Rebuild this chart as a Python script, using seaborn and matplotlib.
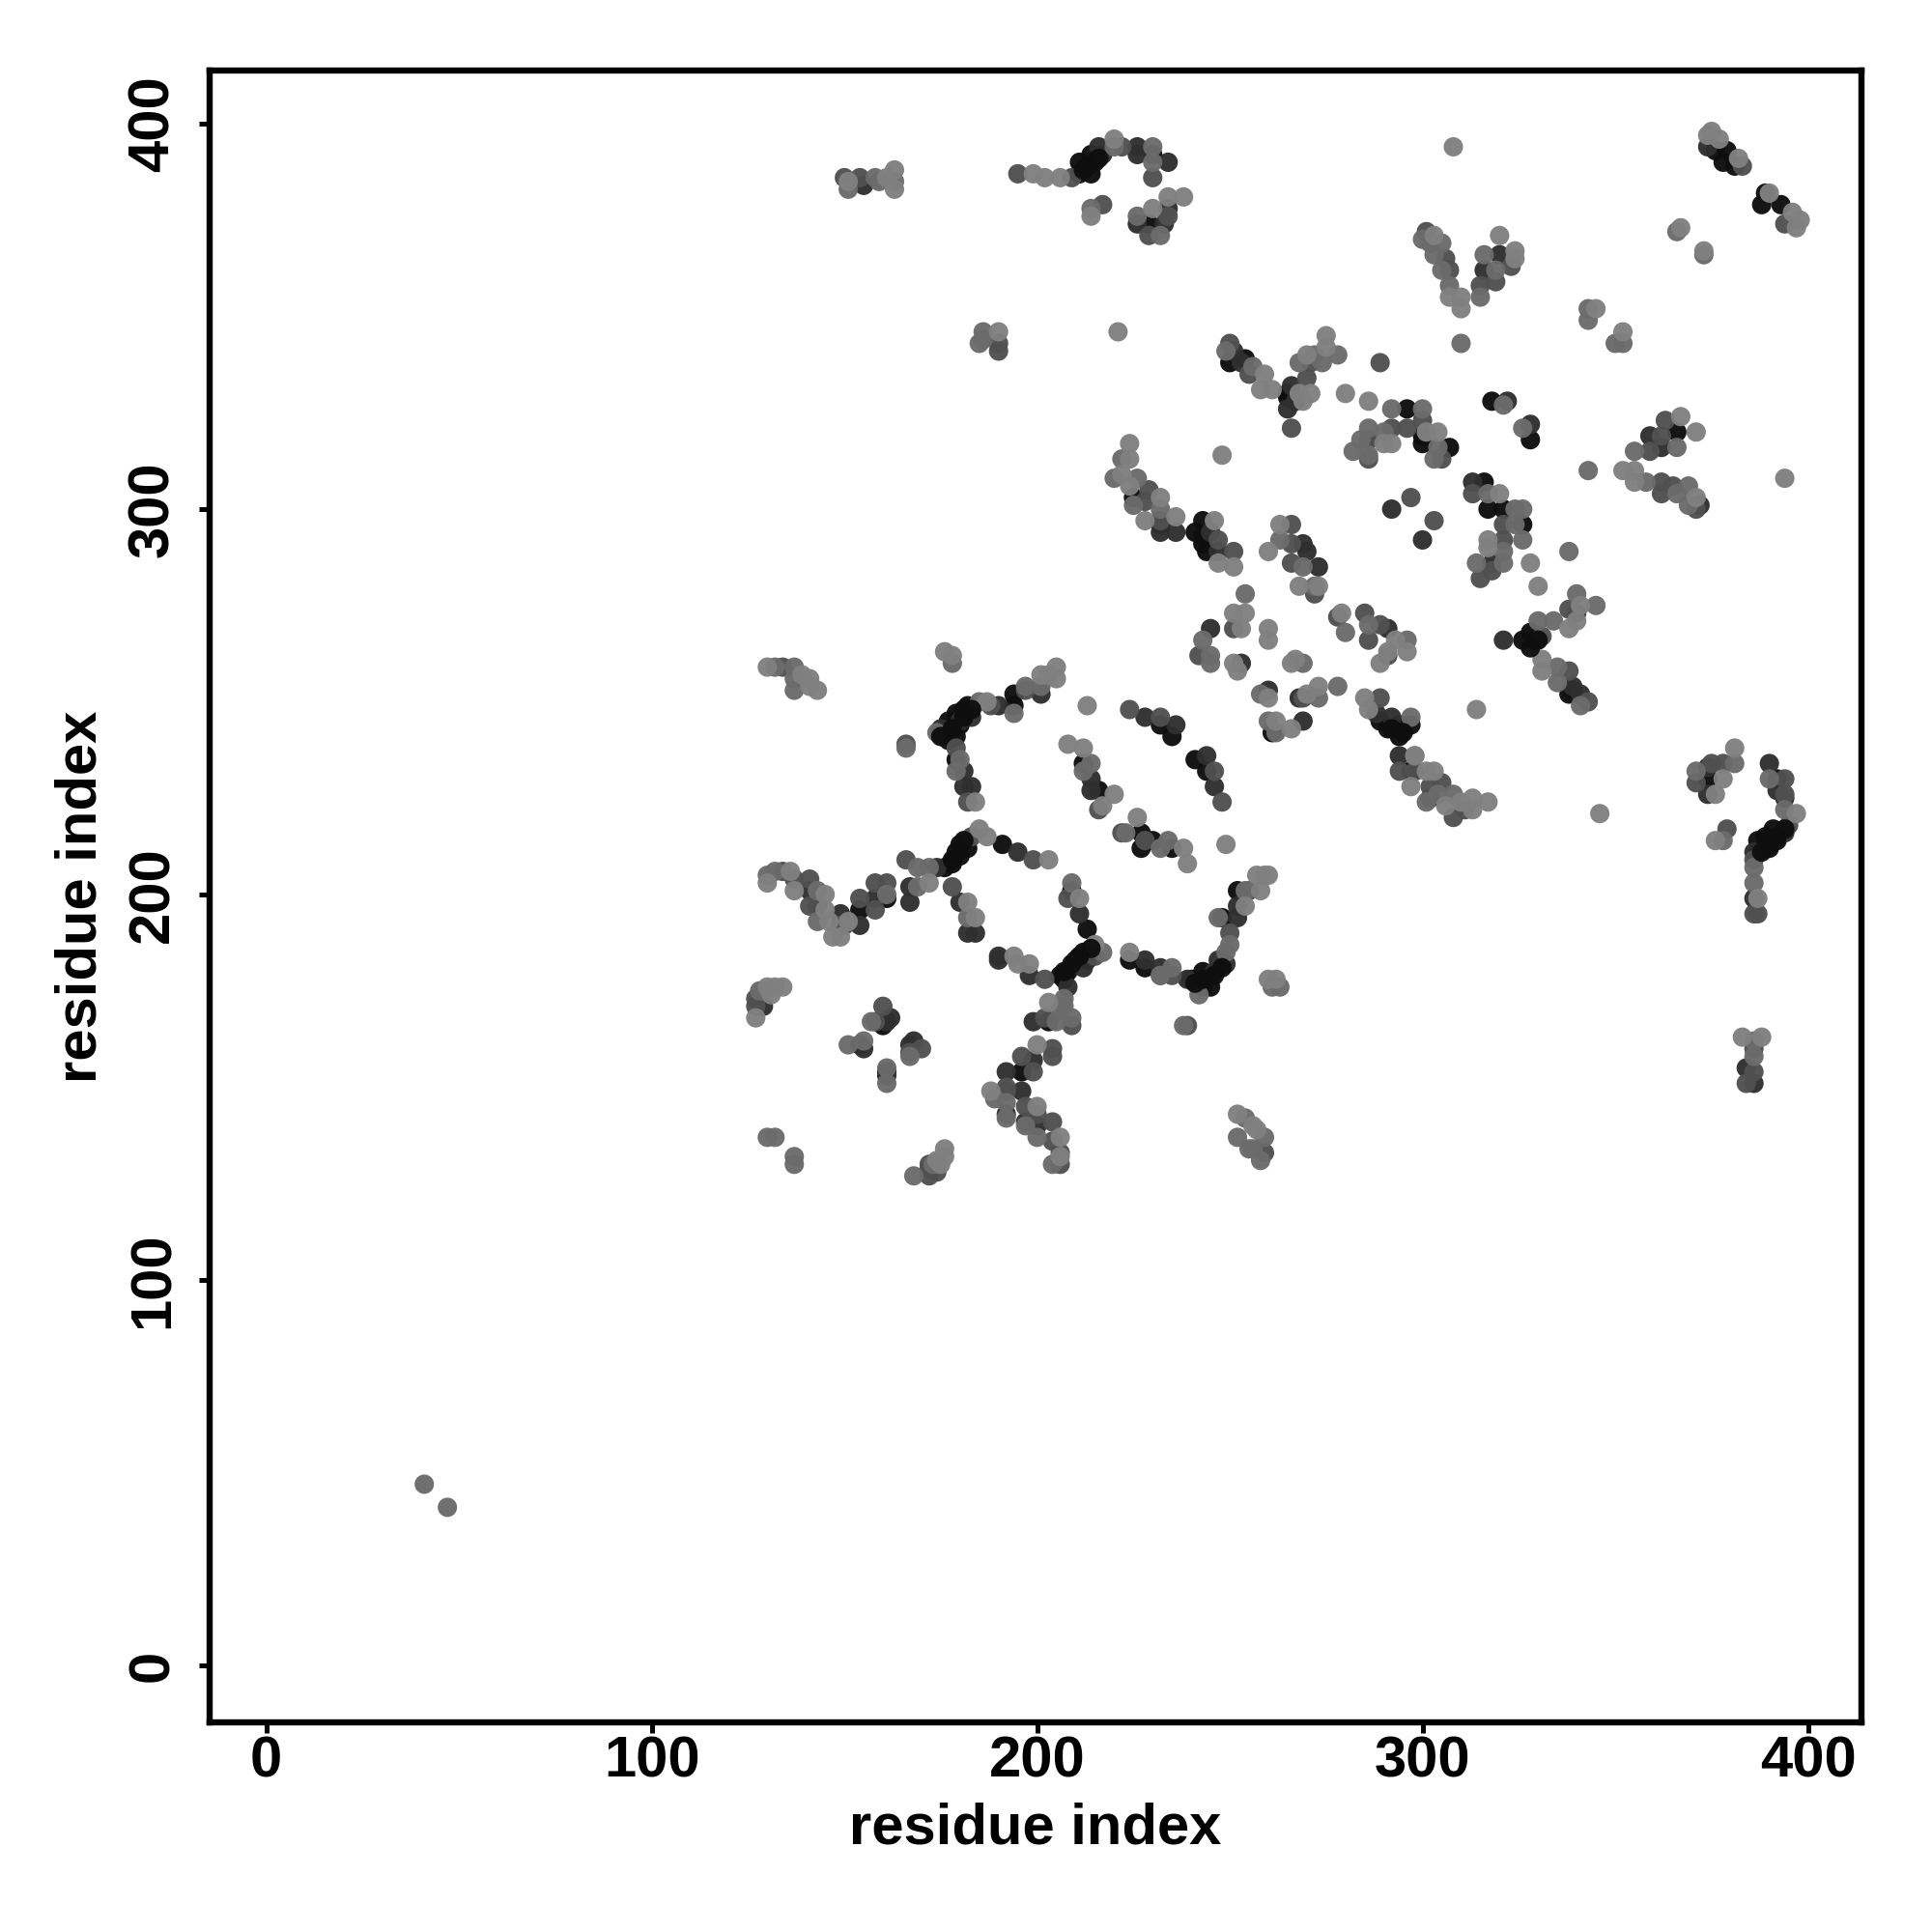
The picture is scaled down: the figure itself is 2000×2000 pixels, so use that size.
import pandas as pd
import seaborn as sns
import matplotlib.pyplot as plt

# contact pairs (residue i, residue j), grouped by how dark the point is
black = [(176,242),(177,245),(177,240),(179,241),(180,244),(179,247),(181,248),(182,249),(194,252),(194,249),(179,235),
    (212,234),(216,227),(232,244),(235,241),(241,235),(244,232),(227,216),(227,212),(230,214),(235,212),
    (154,196),(161,199),(176,207),(178,208),(179,211),(180,210),(180,213),(182,212),(191,213),(209,201),(213,191),
    (212,185),(210,183),(213,183),(208,180),(207,178),(206,179),(203,167),(224,183),(228,181),(240,178),(243,176),
    (245,176),(243,180),(248,194),(252,201),(160,166),(154,161),(161,154),(196,154),(225,303),(232,296),
    (241,294),(243,297),(243,291),(244,289),(243,293),(250,338),(254,339),(265,330),(265,329),(300,319),(300,317),
    (307,316),(318,328),(328,318),(366,320),(229,374),(376,393),(379,393),(378,390),(381,389),(389,382),(388,379),
    (393,379),(211,387),(211,390),(214,387),(214,392),(215,390),(230,392),(261,242),(289,245),(294,244),(294,241),
    (297,244),(291,243),(297,232),(302,225),(316,307),(317,300),(321,300),(326,296),(326,266),(328,268),(329,266),
    (338,252),(339,253),(374,230),(392,230),(391,217),(392,214),(389,215),(390,212),(387,214),(387,211),(296,326)]
dark = [(175,243),(183,246),(180,245),(190,249),(201,252),(181,232),(181,228),(183,228),(228,246),(236,244),(244,236),
    (246,228),(214,230),(214,227),(141,201),(143,197),(149,195),(154,192),(158,199),(167,198),(167,202),(174,207),
    (195,211),(180,198),(182,190),(184,190),(211,195),(212,181),(190,184),(190,183),(198,179),(208,176),(199,167),
    (228,183),(232,181),(239,178),(246,180),(247,183),(249,182),(252,194),(252,197),(129,171),(161,167),(162,168),
    (155,160),(168,162),(167,161),(161,153),(199,157),(192,154),(196,149),(192,143),(197,141),(200,140),
    (232,294),(236,294),(245,294),(247,289),(251,341),(253,338),(265,326),(267,328),(266,332),(286,318),(322,328),
    (328,322),(359,319),(362,316),(372,301),(320,366),(316,362),(155,384),(216,394),(217,392),(226,394),(226,392),
    (234,390),(226,374),(233,374),(234,378),(269,291),(270,289),(273,285),(245,269),(253,260),(260,253),(268,251),
    (269,245),(291,269),(288,247),(292,246),(294,236),(313,307),(318,286),(292,300),(300,292),(321,266),(340,273),
    (339,254),(341,252),(374,233),(374,226),(390,234),(392,227),(394,225),(394,216),(386,211),(386,199),(384,155),
    (386,151),(374,394)]
mid = [(134,259),(166,239),(179,238),(182,224),(188,249),(197,253),(224,248),(232,246),(246,232),(248,224),(216,222),
    (222,216),(228,214),(134,206),(137,204),(141,204),(141,197),(149,192),(150,192),(154,199),(158,196),(158,203),
    (161,203),(166,209),(183,215),(199,209),(178,202),(208,199),(215,184),(202,178),(209,166),(202,168),(232,179),
    (235,179),(250,190),(255,201),(239,166),(127,171),(127,173),(160,171),(158,167),(167,159),(170,160),
    (204,160),(204,158),(196,158),(199,154),(192,150),(192,149),(197,145),(200,143),(204,141),(204,136),(206,133),
    (206,130),(172,127),(172,129),(174,128),(172,130),(259,133),(229,305),(228,302),(222,394),(232,297),
    (247,292),(251,289),(250,343),(255,335),(271,338),(270,334),(266,321),(289,338),(300,323),(296,321),(292,321),
    (286,318),(286,313),(305,313),(363,323),(362,319),(359,315),(362,307),(362,304),(365,306),(371,300),(301,372),
    (306,365),(307,362),(323,363),(315,358),(319,359),(383,389),(394,374),(190,343),(190,341),(150,386),(154,386),
    (195,387),(209,386),(217,379),(229,371),(234,376),(230,386),(266,296),(266,291),(266,286),(272,278),(251,269),
    (242,262),(269,251),(278,272),(285,273),(286,266),(289,270),(291,262),(289,251),(294,232),(298,232),(302,228),
    (305,229),(308,220),(311,222),(313,304),(321,296),(321,292),(318,284),(315,282),(297,303),(303,297),(331,267),
    (338,274),(338,258),(343,250),(378,234),(375,234),(371,229),(379,217),(394,230),(394,226),(395,218),(386,209),
    (386,195),(387,195),(386,154),(384,151),(386,160)]
gray = [(132,259),(137,259),(137,256),(137,253),(178,260),(166,238),(174,242),(185,250),(194,247),(197,254),(201,254),
    (180,235),(179,232),(214,234),(212,232),(223,216),(232,212),(234,214),(130,205),(132,206),(143,201),(143,193),
    (161,200),(169,202),(169,207),(172,207),(182,194),(209,203),(217,185),(207,173),(207,171),(206,170),(209,168),
    (205,167),(232,179),(235,181),(242,174),(249,185),(250,187),(247,194),(254,201),(238,166),(261,176),(263,176),
    (129,175),(128,175),(157,167),(151,161),(155,162),(167,158),(161,155),(161,151),(130,137),(132,137),(137,130),
    (137,132),(168,127),(173,130),(189,147),(192,146),(192,142),(197,140),(200,137),(204,130),(254,142),(252,137),
    (255,134),(259,137),(258,131),(256,134),(222,313),(220,308),(226,308),(225,301),(232,300),(230,394),(230,390),
    (249,341),(256,337),(278,340),(272,340),(268,338),(274,338),(292,326),(300,326),(290,320),(286,321),(284,318),
    (282,315),(286,314),(304,316),(303,313),(321,327),(326,321),(366,316),(355,315),(343,310),(358,307),(366,304),
    (369,306),(369,301),(300,370),(302,369),(305,369),(303,366),(305,362),(307,358),(310,343),(316,366),(319,362),
    (315,355),(366,372),(373,366),(343,352),(343,349),(350,343),(352,343),(186,346),(185,343),(186,344),(151,383),
    (158,386),(163,385),(159,385),(220,394),(214,378),(226,376),(232,371),(263,292),(269,285),(272,280),(254,278),
    (243,266),(245,262),(245,260),(269,260),(258,252),(273,251),(278,254),(260,245),(262,242),(280,268),(286,270),
    (296,266),(297,246),(298,236),(301,224),(304,226),(308,226),(317,304),(324,300),(326,300),(324,296),(326,292),
    (321,289),(321,286),(314,286),(338,289),(330,271),(334,271),(340,278),(345,275),(335,259),(335,255),(341,249),
    (381,234),(371,232),(378,214),(390,230),(394,222),(386,207),(386,203),(386,162),(386,158),(47,41),(41,47)]
light = [(130,259),(139,257),(141,256),(143,253),(141,254),(176,263),(178,262),(187,250),(201,257),(203,257),(205,259),
    (205,256),(184,224),(213,249),(208,239),(212,238),(220,226),(217,223),(226,220),(238,212),(239,208),(249,213),
    (130,203),(136,206),(137,201),(145,200),(145,196),(146,193),(151,193),(147,189),(149,189),(172,203),(185,217),
    (187,215),(203,209),(182,198),(184,194),(211,199),(215,187),(194,184),(195,182),(198,182),(203,172),(224,185),
    (254,197),(258,201),(257,205),(260,205),(259,205),(260,178),(262,178),(127,168),(130,176),(132,176),(134,176),
    (131,174),(175,130),(176,134),(176,132),(174,131),(200,161),(188,149),(200,145),(206,137),(206,132),(252,143),
    (256,140),(257,139),(248,314),(224,317),(224,313),(222,309),(224,306),(232,303),(236,298),(228,297),(246,297),
    (247,286),(251,285),(259,335),(258,331),(261,331),(275,345),(275,342),(270,340),(271,330),(268,330),(269,328),
    (280,330),(286,328),(290,317),(292,317),(301,320),(304,320),(367,324),(371,320),(352,310),(355,310),(355,307),
    (371,303),(394,308),(303,371),(307,355),(310,355),(310,352),(320,371),(324,367),(324,365),(374,397),(375,398),
    (377,396),(382,391),(390,382),(396,377),(397,373),(398,375),(367,373),(373,367),(345,352),(352,346),(190,346),
    (221,346),(151,385),(161,386),(163,388),(163,383),(199,387),(202,386),(206,386),(220,396),(214,376),(230,378),
    (234,381),(238,381),(308,394),(260,289),(263,296),(268,280),(273,280),(251,273),(254,273),(253,269),(251,260),
    (252,258),(260,269),(260,266),(267,261),(266,260),(260,251),(270,252),(273,254),(262,245),(266,243),(279,273),
    (293,266),(296,263),(291,263),(289,260),(285,251),(286,248),(303,232),(301,232),(297,228),(306,223),(310,224),
    (313,225),(317,224),(313,222),(346,221),(314,248),(320,304),(317,292),(317,290),(328,286),(330,280),(341,275),
    (338,269),(340,271),(331,261),(331,258),(298,236),(381,238),(378,230),(376,226),(376,214),(397,221),(387,199),
    (383,163),(388,163)]
# dense runs along the darkest chains, drawn last so they stay visible
chain_top = [(175,241),(178,243),(181,246),(183,248),(178,209),(181,214),(209,182),(211,184),(214,186),(207,180),
    (241,177),(243,178),(246,179),(248,181),(212,388),(213,389),(216,391),(388,211),(390,213),(392,215),(394,217),
    (292,243),(295,242),(328,264),(330,266)]

shades = {'black': '#0e0e0e', 'dark': '#2f2f2f', 'mid': '#505050', 'gray': '#6b6b6b', 'light': '#808080', 'top': '#0e0e0e'}
groups = {'black': black, 'dark': dark, 'mid': mid, 'gray': gray, 'light': light, 'top': chain_top}
ticks = [0, 100, 200, 300, 400]

rows = []
for name, pairs in groups.items():
    for i, j in pairs:
        rows.append((i, j, name))
df = pd.DataFrame(rows, columns=['i', 'j', 'shade'])

sns.set_style('white')
plt.rcParams['font.family'] = ['Liberation Sans', 'DejaVu Sans']
plt.rcParams['font.weight'] = 'bold'
plt.rcParams['text.color'] = 'black'
plt.rcParams['axes.labelcolor'] = 'black'
plt.rcParams['xtick.labelcolor'] = 'black'
plt.rcParams['ytick.labelcolor'] = 'black'

fig = plt.figure(figsize=(10, 10), dpi=200)
ax = fig.add_axes([217/2000, 1 - 1783/2000, 1710/2000, 1710/2000])

sns.scatterplot(data=df, x='i', y='j', hue='shade', palette=shades, hue_order=list(shades),
                s=52, linewidth=0, alpha=0.97, legend=False, ax=ax)

ax.set_xlim(-14.7, 413.9)
ax.set_ylim(-14.8, 413.8)
ax.set_xticks(ticks)
ax.set_yticks(ticks)
ax.tick_params(length=4, width=1.8, labelsize=21.5, color='black', labelcolor='black', pad=1, left=True, bottom=True)
ax.tick_params(axis='y', pad=7)
plt.setp(ax.get_yticklabels(), rotation=90, va='center')
ax.set_xlabel('residue index', fontsize=21.5, fontweight='bold', labelpad=5, color='black')
ax.set_ylabel('residue index', fontsize=21.5, fontweight='bold', labelpad=7, color='black')
for s in ax.spines.values():
    s.set_linewidth(2.3)
    s.set_color('black')

fig.savefig('out.png', dpi=200)
